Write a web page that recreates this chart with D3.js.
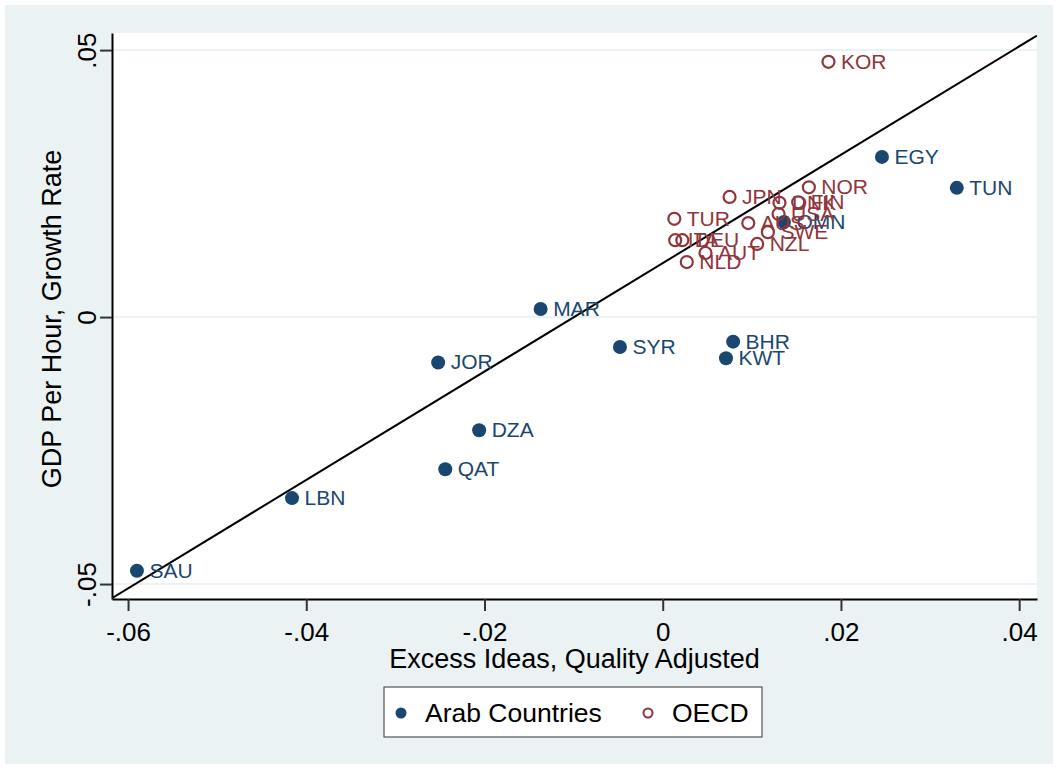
<!DOCTYPE html>
<html>
<head>
<meta charset="utf-8">
<script src="https://cdn.jsdelivr.net/npm/d3@7"></script>
<style>
  body { margin: 0; background: #fff; }
  svg { display: block; font-family: "Liberation Sans", Arial, sans-serif; }
</style>
</head>
<body>
<div id="chart"></div>
<script>
// Arab countries (filled markers)
var arabNames = ["SAU", "LBN", "QAT", "DZA", "JOR", "MAR", "SYR", "BHR", "KWT", "OMN", "EGY", "TUN"];
var arabX = [-0.0590, -0.0416, -0.0244, -0.0206, -0.0252, -0.0137, -0.0048, 0.0079, 0.0071, 0.0136, 0.0246, 0.0330];
var arabY = [-0.0475, -0.0339, -0.0285, -0.0212, -0.0085, 0.0015, -0.0056, -0.0046, -0.0077, 0.0178, 0.0300, 0.0242];

// OECD countries (hollow markers)
var oecdNames = ["KOR", "NOR", "JPN", "DNK", "FIN", "USA", "AUS", "SWE", "NZL", "TUR", "ITA", "DEU", "AUT", "NLD"];
var oecdX = [0.0186, 0.0164, 0.0075, 0.0131, 0.0152, 0.0130, 0.0096, 0.0118, 0.0106, 0.0013, 0.0014, 0.0022, 0.0048, 0.0027];
var oecdY = [0.0478, 0.0243, 0.0225, 0.0214, 0.0215, 0.0193, 0.0176, 0.0159, 0.0137, 0.0184, 0.0144, 0.0144, 0.0120, 0.0103];

// fitted line
var fitIntercept = 0.0101, fitSlope = 1.015;

var xTicks = [-0.06, -0.04, -0.02, 0, 0.02, 0.04];
var yTicks = [-0.05, 0, 0.05];
var xTitle = "Excess Ideas, Quality Adjusted";
var yTitle = "GDP Per Hour, Growth Rate";
var legendLabels = ["Arab Countries", "OECD"];

var navy = "#1a476f", maroon = "#90353b", bg = "#eaf2f3";

var width = 1058, height = 769;
var plot = { left: 112, right: 1037, top: 33, bottom: 599 };

var svg = d3.select("#chart").append("svg")
            .attr("width", width)
            .attr("height", height);

svg.append("rect")
   .attr("x", 5).attr("y", 5)
   .attr("width", width - 10).attr("height", height - 10)
   .style("fill", bg);

svg.append("rect")
   .attr("x", plot.left).attr("y", plot.top)
   .attr("width", plot.right - plot.left).attr("height", plot.bottom - plot.top)
   .style("fill", "#fff");

var x = d3.scaleLinear().domain([-0.0618, 0.0420]).range([plot.left, plot.right]);
var y = d3.scaleLinear().domain([-0.0528, 0.0532]).range([plot.bottom, plot.top]);

// Stata style: no leading zero, plain hyphen
var fmt = d => d === 0 ? "0" : d3.format(".2f")(d).replace("\u2212", "-").replace("0.", ".");

// gridlines
svg.selectAll("line.grid")
   .data(yTicks)
   .enter().append("line")
   .attr("class", "grid")
   .attr("x1", plot.left).attr("x2", plot.right)
   .attr("y1", d => y(d)).attr("y2", d => y(d))
   .style("stroke", bg)
   .style("stroke-width", 2);

svg.append("clipPath").attr("id", "clip")
   .append("rect")
   .attr("x", plot.left).attr("y", plot.top)
   .attr("width", plot.right - plot.left).attr("height", plot.bottom - plot.top);

// fitted line
var xd = x.domain();
svg.append("line")
   .attr("clip-path", "url(#clip)")
   .attr("x1", x(xd[0])).attr("y1", y(fitIntercept + fitSlope * xd[0]))
   .attr("x2", x(xd[1])).attr("y2", y(fitIntercept + fitSlope * xd[1]))
   .style("stroke", "#000")
   .style("stroke-width", 2);

// axes
var xAxis = svg.append("g")
   .attr("transform", "translate(0," + plot.bottom + ")")
   .call(d3.axisBottom(x).tickValues(xTicks).tickSize(12).tickSizeOuter(0).tickFormat(fmt));

xAxis.select(".domain").style("stroke", "#000").style("stroke-width", 2);
xAxis.selectAll(".tick line").style("stroke", "#333").style("stroke-width", 2);
xAxis.selectAll(".tick text")
     .attr("y", 42).attr("dy", 0)
     .style("font-size", "26px")
     .style("fill", "#000");

var yAxis = svg.append("g")
   .attr("transform", "translate(" + plot.left + ",0)")
   .call(d3.axisLeft(y).tickValues(yTicks).tickSize(12).tickSizeOuter(0).tickFormat(fmt));

yAxis.select(".domain").style("stroke", "#000").style("stroke-width", 2);
yAxis.selectAll(".tick line").style("stroke", "#333").style("stroke-width", 2);
yAxis.selectAll(".tick text")
     .attr("transform", "rotate(-90)")
     .attr("x", 0).attr("y", -16).attr("dy", 0)
     .style("text-anchor", "middle")
     .style("font-size", "26px")
     .style("fill", "#000");

svg.append("text")
   .attr("x", (plot.left + plot.right) / 2)
   .attr("y", 668)
   .style("text-anchor", "middle")
   .style("font-size", "27px")
   .text(xTitle);

svg.append("text")
   .attr("transform", "translate(61," + ((plot.top + plot.bottom) / 2 + 3) + ") rotate(-90)")
   .style("text-anchor", "middle")
   .style("font-size", "27px")
   .text(yTitle);

// points
var arab = arabNames.map((n, i) => ({ name: n, x: arabX[i], y: arabY[i] }));
var oecd = oecdNames.map((n, i) => ({ name: n, x: oecdX[i], y: oecdY[i] }));

var g = svg.append("g");

g.selectAll("circle.arab")
 .data(arab)
 .enter().append("circle")
 .attr("class", "arab")
 .attr("cx", d => x(d.x)).attr("cy", d => y(d.y))
 .attr("r", 7)
 .style("fill", navy);

g.selectAll("text.arab")
 .data(arab)
 .enter().append("text")
 .attr("class", "arab")
 .attr("x", d => x(d.x) + 12.5).attr("y", d => y(d.y) + 7)
 .style("font-size", "21px")
 .style("fill", navy)
 .text(d => d.name);

g.selectAll("circle.oecd")
 .data(oecd)
 .enter().append("circle")
 .attr("class", "oecd")
 .attr("cx", d => x(d.x)).attr("cy", d => y(d.y))
 .attr("r", 6)
 .style("fill", "none")
 .style("stroke", maroon)
 .style("stroke-width", 2.2);

g.selectAll("text.oecd")
 .data(oecd)
 .enter().append("text")
 .attr("class", "oecd")
 .attr("x", d => x(d.x) + 12.5).attr("y", d => y(d.y) + 7)
 .style("font-size", "21px")
 .style("fill", maroon)
 .text(d => d.name);

// legend
var legend = svg.append("g");
legend.append("rect")
      .attr("x", 384).attr("y", 687)
      .attr("width", 378).attr("height", 50)
      .style("fill", "#fff")
      .style("stroke", "#333")
      .style("stroke-width", 1);

legend.append("circle")
      .attr("cx", 401).attr("cy", 713).attr("r", 5.5)
      .style("fill", navy);
legend.append("text")
      .attr("x", 425).attr("y", 722)
      .style("font-size", "26.5px")
      .text(legendLabels[0]);

legend.append("circle")
      .attr("cx", 648).attr("cy", 713).attr("r", 4.5)
      .style("fill", "none")
      .style("stroke", maroon)
      .style("stroke-width", 2);
legend.append("text")
      .attr("x", 672).attr("y", 722)
      .style("font-size", "26.5px")
      .text(legendLabels[1]);
</script>
</body>
</html>
